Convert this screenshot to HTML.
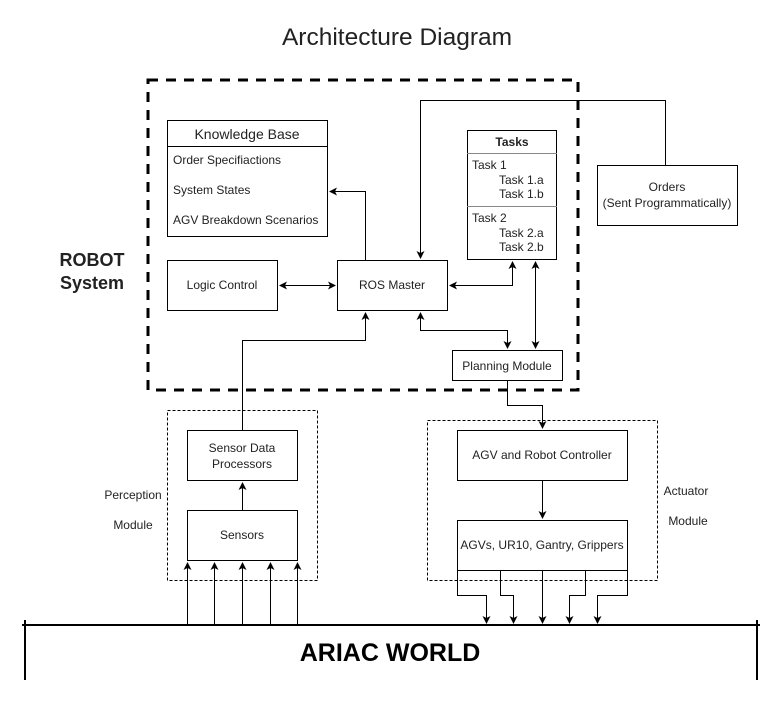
<!DOCTYPE html>
<html><head><meta charset="utf-8"><style>body{margin:0;background:#fff}svg{display:block}text{font-family:"Liberation Sans",sans-serif;fill:#222}</style></head><body>
<svg width="783" height="702" viewBox="0 0 783 702" xmlns="http://www.w3.org/2000/svg">
<defs><marker id="a" markerWidth="8" markerHeight="8" refX="7" refY="4" orient="auto" markerUnits="userSpaceOnUse"><path d="M0,0 L8,4 L0,8 L2,4 z" fill="#000"/></marker>
<marker id="s" markerWidth="8" markerHeight="8" refX="1" refY="4" orient="auto" markerUnits="userSpaceOnUse"><path d="M8,0 L0,4 L8,8 L6,4 z" fill="#000"/></marker></defs>
<text x="397" y="45" font-size="24.5" text-anchor="middle">Architecture Diagram</text>
<rect x="148" y="80" width="430" height="310" fill="none" stroke="#000" stroke-width="3" stroke-dasharray="10,8"/>
<text x="92" y="266" font-size="18" font-weight="bold" text-anchor="middle">ROBOT</text>
<text x="92" y="289" font-size="18" font-weight="bold" text-anchor="middle">System</text>
<g fill="#fff" stroke="#000" stroke-width="1">
<rect x="167.5" y="120.5" width="160" height="116"/><line x1="167" y1="146.5" x2="328" y2="146.5"/>
<rect x="467.5" y="130.5" width="89" height="129"/><line x1="467" y1="153.5" x2="557" y2="153.5" stroke="#888"/><line x1="467" y1="206.5" x2="557" y2="206.5" stroke="#888"/>
<rect x="167.5" y="260.5" width="110" height="50"/>
<rect x="337.5" y="260.5" width="110" height="50"/>
<rect x="452.5" y="350.5" width="110" height="30"/>
<rect x="597.5" y="165.5" width="140" height="60"/>
<rect x="187.5" y="430.5" width="110" height="50"/>
<rect x="187.5" y="510.5" width="110" height="50"/>
<rect x="457.5" y="430.5" width="170" height="50"/>
<rect x="457.5" y="520.5" width="170" height="50"/>
</g>
<g fill="none" stroke="#000" stroke-width="1" stroke-dasharray="3,2">
<rect x="167.5" y="410.5" width="150" height="170"/>
<rect x="427.5" y="420.5" width="230" height="160"/>
</g>
<g font-size="12">
<text x="247" y="139" font-size="14" text-anchor="middle">Knowledge Base</text>
<text x="173" y="164">Order Specifiactions</text>
<text x="173" y="194">System States</text>
<text x="173" y="224">AGV Breakdown Scenarios</text>
<text x="512" y="146" font-weight="bold" text-anchor="middle">Tasks</text>
<text x="472" y="169">Task 1</text><text x="499" y="184">Task 1.a</text><text x="499" y="198">Task 1.b</text>
<text x="472" y="222">Task 2</text><text x="499" y="237">Task 2.a</text><text x="499" y="251">Task 2.b</text>
<text x="222" y="289" text-anchor="middle">Logic Control</text>
<text x="392" y="289" text-anchor="middle">ROS Master</text>
<text x="507" y="370" text-anchor="middle">Planning Module</text>
<text x="667" y="191" text-anchor="middle">Orders</text>
<text x="667" y="207" text-anchor="middle">(Sent  Programmatically)</text>
<text x="242" y="452" text-anchor="middle">Sensor Data</text>
<text x="242" y="468" text-anchor="middle">Processors</text>
<text x="242" y="539" text-anchor="middle">Sensors</text>
<text x="542" y="459" text-anchor="middle">AGV and Robot Controller</text>
<text x="542" y="549" text-anchor="middle">AGVs, UR10, Gantry, Grippers</text>
<text x="133" y="499" text-anchor="middle">Perception</text>
<text x="133" y="529" text-anchor="middle">Module</text>
<text x="686" y="495" text-anchor="middle">Actuator</text>
<text x="688" y="525" text-anchor="middle">Module</text>
</g>
<g fill="none" stroke="#000" stroke-width="1">
<path d="M665.5,165 V100.5 H420.5 V258" marker-end="url(#a)"/>
<path d="M365.5,260 V191.5 H330" marker-end="url(#a)"/>
<path d="M280,285.5 H335" marker-start="url(#s)" marker-end="url(#a)"/>
<path d="M450,285.5 H512.5 V262" marker-start="url(#s)" marker-end="url(#a)"/>
<path d="M535.5,262 V348" marker-start="url(#s)" marker-end="url(#a)"/>
<path d="M420.5,313 V330.5 H507.5 V348" marker-start="url(#s)" marker-end="url(#a)"/>
<path d="M242.5,430 V340.5 H365.5 V313" marker-end="url(#a)"/>
<path d="M507.5,381 V405.5 H542.5 V428" marker-end="url(#a)"/>
<path d="M242.5,510 V483" marker-end="url(#a)"/>
<path d="M542.5,481 V518" marker-end="url(#a)"/>
<path d="M187.5,625 V563" marker-end="url(#a)"/>
<path d="M214.5,625 V563" marker-end="url(#a)"/>
<path d="M242.5,625 V563" marker-end="url(#a)"/>
<path d="M270.5,625 V563" marker-end="url(#a)"/>
<path d="M297.5,625 V563" marker-end="url(#a)"/>
<path d="M457.5,571 V595.5 H486.5 V623" marker-end="url(#a)"/>
<path d="M500.5,571 V595.5 H513.5 V623" marker-end="url(#a)"/>
<path d="M542.5,571 V623" marker-end="url(#a)"/>
<path d="M585.5,571 V595.5 H569.5 V623" marker-end="url(#a)"/>
<path d="M627.5,571 V595.5 H597.5 V623" marker-end="url(#a)"/>
</g>
<line x1="22" y1="625" x2="760" y2="625" stroke="#000" stroke-width="2"/>
<line x1="25" y1="620" x2="25" y2="680" stroke="#000" stroke-width="2"/>
<line x1="757" y1="620" x2="757" y2="680" stroke="#000" stroke-width="2"/>
<text x="390" y="661" font-size="25" font-weight="bold" text-anchor="middle" style="fill:#000">ARIAC WORLD</text>
</svg>
</body></html>
